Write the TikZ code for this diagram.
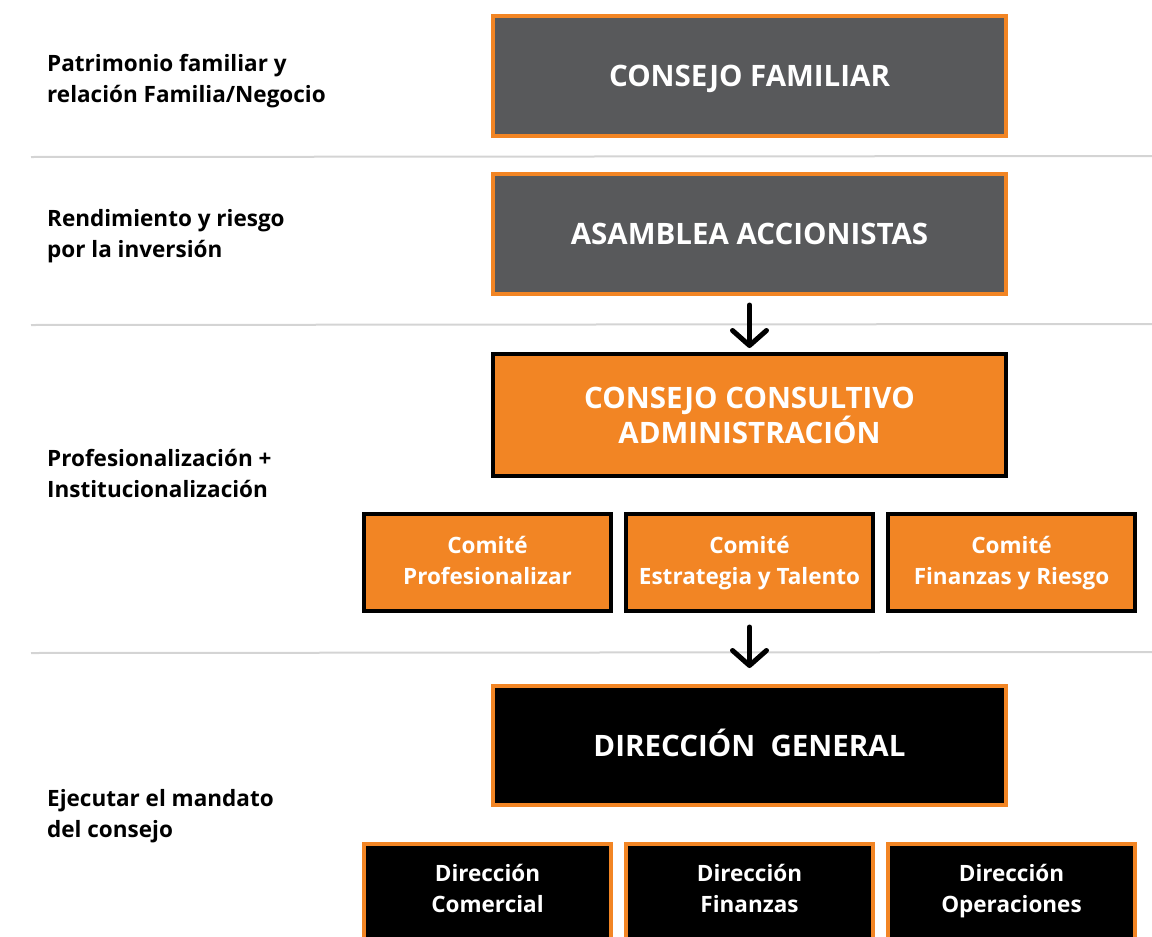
\documentclass[tikz,border=0pt]{standalone}
\usepackage{fontspec}
\setmainfont{Open Sans}
\usetikzlibrary{arrows.meta}
\definecolor{corange}{HTML}{F28524}
\definecolor{cgray}{HTML}{58595B}
\definecolor{cline}{HTML}{D4D4D4}
\newcommand{\bigstrut}{\rule[-7pt]{0pt}{35pt}}
\newcommand{\smstrut}{\rule[-7.5pt]{0pt}{31pt}}
\tikzset{
  x=1pt, y=-1pt,
  bigbox/.style={minimum width=513pt, inner sep=0pt, line width=4pt, text=white, align=center,
    font=\fontsize{29.5}{35}\selectfont\bfseries},
  smallbox/.style={minimum width=247pt, inner sep=0pt, line width=4pt, text=white, align=center,
    font=\fontsize{22.5}{31}\selectfont\bfseries},
  lefttext/.style={anchor=west, align=left, inner sep=0pt, font=\fontsize{22.5}{31}\selectfont\bfseries},
  sepline/.style={draw=cline, line width=2pt},
  arr/.style={line width=5pt, line cap=round, line join=round, -{Straight Barb[length=15pt,width=34pt,round]}},
}
\begin{document}
\begin{tikzpicture}
\useasboundingbox (0,0) rectangle (1152,937);
\clip (0,0) rectangle (1152,937);
% separator lines
\coordinate (l1a) at (31,157); \coordinate (l1b) at (1152,156);
\coordinate (l2a) at (31,325); \coordinate (l2b) at (1152,324);
\coordinate (l3a) at (31,653); \coordinate (l3b) at (1152,652);
\draw[sepline] (l1a) -- (l1b);
\draw[sepline] (l2a) -- (l2b);
\draw[sepline] (l3a) -- (l3b);
% left labels
\node[lefttext] (t1) at (47,79) {\smstrut Patrimonio familiar y\\\smstrut relación Familia/Negocio};
\node[lefttext] (t2) at (47,234) {\smstrut Rendimiento y riesgo\\\smstrut por la inversión};
\node[lefttext] (t3) at (47,473.5) {\smstrut Profesionalización +\\\smstrut Institucionalización};
\node[lefttext] (t4) at (47,813.5) {\smstrut Ejecutar el mandato\\\smstrut del consejo};
% main boxes
\node[bigbox, draw=corange, fill=cgray, minimum height=120pt] (cf) at (749.5,76) {\bigstrut CONSEJO FAMILIAR};
\node[bigbox, draw=corange, fill=cgray, minimum height=120pt] (aa) at (749.5,234) {\bigstrut ASAMBLEA ACCIONISTAS};
\node[bigbox, draw=black, fill=corange, minimum height=122pt] (cc) at (749.5,415) {\bigstrut CONSEJO CONSULTIVO\\\bigstrut ADMINISTRACIÓN};
\node[smallbox, draw=black, fill=corange, minimum height=97pt] (c1) at (487.5,562.5) {};
\node[smallbox, draw=black, fill=corange, minimum height=97pt] (c2) at (749.5,562.5) {};
\node[smallbox, draw=black, fill=corange, minimum height=97pt] (c3) at (1011.5,562.5) {};
\node[smallbox] (c1t) at (487.5,560.5) {\smstrut Comité\\\smstrut Profesionalizar};
\node[smallbox] (c2t) at (749.5,560.5) {\smstrut Comité\\\smstrut Estrategia y Talento};
\node[smallbox] (c3t) at (1011.5,560.5) {\smstrut Comité\\\smstrut Finanzas y Riesgo};
\node[bigbox, draw=corange, fill=black, minimum height=119pt] (dg) at (749.5,745.5) {\bigstrut DIRECCIÓN\ \ GENERAL};
\node[smallbox, draw=corange, fill=black, minimum height=116pt, anchor=north] (d1) at (487.5,842) {};
\node[smallbox, draw=corange, fill=black, minimum height=116pt, anchor=north] (d2) at (749.5,842) {};
\node[smallbox, draw=corange, fill=black, minimum height=116pt, anchor=north] (d3) at (1011.5,842) {};
\node[smallbox] (d1t) at (487.5,888.5) {\smstrut Dirección\\\smstrut Comercial};
\node[smallbox] (d2t) at (749.5,888.5) {\smstrut Dirección\\\smstrut Finanzas};
\node[smallbox] (d3t) at (1011.5,888.5) {\smstrut Dirección\\\smstrut Operaciones};
% arrows
\draw[arr, shorten <=9pt, shorten >=4pt] (aa) -- (cc);
\draw[arr, shorten <=14pt, shorten >=16pt] (c2) -- (dg);
\end{tikzpicture}
\end{document}
